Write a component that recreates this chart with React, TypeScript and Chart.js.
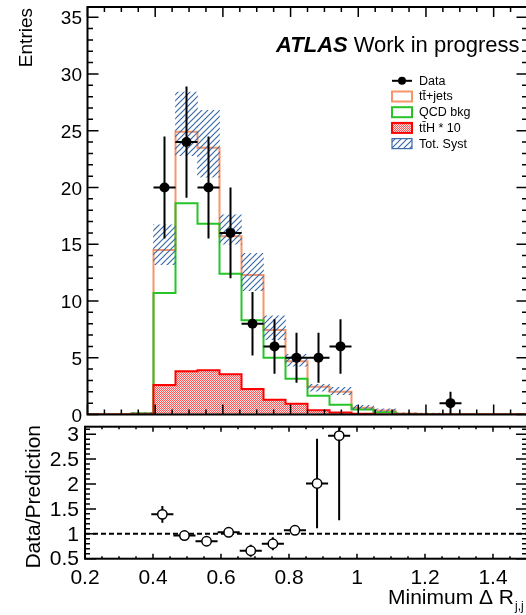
import React, { useEffect, useRef } from 'react';
import { Chart, registerables } from 'chart.js';
Chart.register(...registerables);

const FONT = "'Liberation Sans', Arial, Helvetica, sans-serif";

// ---- data ----
const binEdges = [0.2, 0.265, 0.33, 0.395, 0.46, 0.525, 0.59, 0.655, 0.72, 0.785, 0.85, 0.915, 0.98, 1.045, 1.11, 1.175, 1.24, 1.305, 1.37, 1.435, 1.5];
const qcdBkg = [0, 0, 0.08, 10.7, 18.6, 16.8, 12.4, 8.3, 5.0, 3.15, 1.65, 0.85, 0.45, 0.2, 0.05, 0.03, 0, 0, 0, 0];
const ttJets = [0, 0, 0.04, 3.8, 6.3, 6.7, 3.3, 4.0, 2.45, 1.55, 0.8, 1.15, 0.15, 0.15, 0.03, 0.02, 0, 0, 0, 0];
const ttH10 = [0, 0, 0, 2.6, 3.8, 3.9, 3.55, 2.25, 1.3, 0.95, 0.38, 0.18, 0.06, 0, 0, 0, 0, 0, 0, 0];
const systDown = [0, 0, 0.08, 13.2, 22.8, 20.9, 15.0, 10.9, 6.6, 4.25, 2.05, 1.75, 0.45, 0.25, 0, 0, 0, 0, 0, 0];
const systUp = [0, 0, 0.16, 16.7, 28.4, 26.8, 17.6, 14.2, 8.7, 5.3, 2.65, 2.4, 0.8, 0.5, 0.15, 0.12, 0, 0, 0, 0];

const dataX = [0.4275, 0.4925, 0.5575, 0.6225, 0.6875, 0.7525, 0.8175, 0.8825, 0.9475, 1.2725];
const dataY = [20, 24, 20, 16, 8, 6, 5, 5, 6, 1];
const dataErr = [4.5, 4.9, 4.5, 4.0, 2.8, 2.4, 2.2, 2.2, 2.4, 1.0];

const ratioX = [0.4275, 0.4925, 0.5575, 0.6225, 0.6875, 0.7525, 0.8175, 0.8825, 0.9475];
const ratioY = [1.39, 0.965, 0.85, 1.03, 0.66, 0.8, 1.07, 2.01, 2.97];
const ratioErrUp = [0.17, 0.04, 0.05, 0.04, 0.12, 0.13, 0.09, 0.9, 1.7];
const ratioErrDown = [0.17, 0.04, 0.05, 0.04, 0.12, 0.13, 0.09, 0.9, 1.7];

const X_MIN = 0.2, X_MAX = 1.5;
const Y_TOP_MAX = 35.9;
const R_MIN = 0.5, R_MAX = 3.15;

const legendLabels = ['Data', 'tt\u0304+jets', 'QCD bkg', 'tt\u0304H * 10', 'Tot. Syst'];

const ORANGE = '#f7956a';
const GREEN = '#27c427';
const RED = '#ff0000';
const BLUE = '#3a6aa8';

function outline(vals: number[]) {
  const pts: { x: number; y: number }[] = [{ x: binEdges[0], y: 0 }];
  vals.forEach((v, i) => {
    pts.push({ x: binEdges[i], y: v });
    pts.push({ x: binEdges[i + 1], y: v });
  });
  pts.push({ x: binEdges[binEdges.length - 1], y: 0 });
  return pts;
}

function makeHatch(): CanvasPattern {
  const c = document.createElement('canvas');
  c.width = 6; c.height = 6;
  const g = c.getContext('2d')!;
  g.strokeStyle = BLUE; g.lineWidth = 1.2;
  g.beginPath();
  g.moveTo(0, 6); g.lineTo(6, 0);
  g.moveTo(-1, 1); g.lineTo(1, -1);
  g.moveTo(5, 7); g.lineTo(7, 5);
  g.stroke();
  return g.createPattern(c, 'repeat')!;
}

function makeRed(): CanvasPattern {
  const c = document.createElement('canvas');
  c.width = 2; c.height = 2;
  const g = c.getContext('2d')!;
  g.fillStyle = 'rgb(255,225,225)'; g.fillRect(0, 0, 2, 2);
  g.fillStyle = 'rgba(255,40,40,0.75)';
  g.fillRect(0, 0, 1, 1); g.fillRect(1, 1, 1, 1);
  return g.createPattern(c, 'repeat')!;
}

type TickCfg = {
  xMajor: number; xMinor: number; xMajLen: number; xMinLen: number;
  yMajor: number; yMinor: number; yMajLen: number; yMinLen: number;
};

function drawFrameTicks(chart: any, cfg: TickCfg) {
  const { ctx, chartArea: a, scales } = chart;
  const xs = scales.x, ys = scales.y;
  ctx.save();
  ctx.strokeStyle = '#000';
  ctx.lineWidth = 1.5;
  ctx.beginPath();
  const nx = Math.round((xs.max - xs.min) / cfg.xMinor);
  for (let k = 0; k <= nx; k++) {
    const v = xs.min + k * cfg.xMinor;
    const r = (v - xs.min) / cfg.xMajor;
    const major = Math.abs(r - Math.round(r)) < 1e-6;
    const len = major ? cfg.xMajLen : cfg.xMinLen;
    const px = xs.getPixelForValue(v);
    ctx.moveTo(px, a.bottom); ctx.lineTo(px, a.bottom - len);
    ctx.moveTo(px, a.top); ctx.lineTo(px, a.top + len);
  }
  const ny = Math.floor((ys.max - ys.min) / cfg.yMinor + 1e-6);
  for (let k = 0; k <= ny; k++) {
    const v = ys.min + k * cfg.yMinor;
    const r = (v - ys.min) / cfg.yMajor;
    const major = Math.abs(r - Math.round(r)) < 1e-6;
    const len = major ? cfg.yMajLen : cfg.yMinLen;
    const py = ys.getPixelForValue(v);
    ctx.moveTo(a.left, py); ctx.lineTo(a.left + len, py);
    ctx.moveTo(a.right, py); ctx.lineTo(a.right - len, py);
  }
  ctx.stroke();
  ctx.lineWidth = 2;
  ctx.strokeRect(a.left, a.top, a.right - a.left, a.bottom - a.top);
  ctx.restore();
}

function drawErrorBars(chart: any, xsArr: number[], ysArr: number[], up: number[], down: number[]) {
  const { ctx, chartArea: a, scales } = chart;
  const xs = scales.x, ys = scales.y;
  const halfW = (binEdges[1] - binEdges[0]) / 2;
  ctx.save();
  ctx.beginPath();
  ctx.rect(a.left, a.top, a.right - a.left, a.bottom - a.top);
  ctx.clip();
  ctx.strokeStyle = '#000';
  ctx.lineWidth = 2;
  ctx.beginPath();
  xsArr.forEach((x, i) => {
    const px = xs.getPixelForValue(x);
    const py = ys.getPixelForValue(ysArr[i]);
    ctx.moveTo(px, ys.getPixelForValue(ysArr[i] + up[i]));
    ctx.lineTo(px, ys.getPixelForValue(ysArr[i] - down[i]));
    ctx.moveTo(xs.getPixelForValue(x - halfW), py);
    ctx.lineTo(xs.getPixelForValue(x + halfW), py);
  });
  ctx.stroke();
  ctx.restore();
}

const fmt = (v: any) => String(+Number(v).toFixed(2));
const keepMultiples = (step: number) => (s: any) => {
  s.ticks = s.ticks.filter((t: any) => {
    const r = t.value / step;
    return Math.abs(r - Math.round(r)) < 1e-6;
  });
};

export default function App() {
  const topRef = useRef<HTMLCanvasElement>(null);
  const botRef = useRef<HTMLCanvasElement>(null);

  useEffect(() => {
    const hatch = makeHatch();
    const redPat = makeRed();
    const centers = binEdges.slice(0, -1).map((e, i) => (e + binEdges[i + 1]) / 2);
    const total = qcdBkg.map((v, i) => v + ttJets[i]);

    const topPlugin = {
      id: 'topDecor',
      beforeDatasetDraw(chart: any, args: any) {
        if (args.index === 0) drawErrorBars(chart, dataX, dataY, dataErr, dataErr);
      },
      afterDraw(chart: any) {
        drawFrameTicks(chart, { xMajor: 0.2, xMinor: 0.05, xMajLen: 10, xMinLen: 5, yMajor: 5, yMinor: 1, yMajLen: 11, yMinLen: 5.5 });
        const ctx = chart.ctx as CanvasRenderingContext2D;
        // y title
        ctx.save();
        ctx.fillStyle = '#000';
        ctx.font = `19px ${FONT}`;
        ctx.translate(32, 8);
        ctx.rotate(-Math.PI / 2);
        ctx.textAlign = 'right';
        ctx.textBaseline = 'alphabetic';
        ctx.fillText('Entries', 0, 0);
        ctx.restore();
        // ATLAS label
        ctx.save();
        ctx.fillStyle = '#000';
        ctx.textBaseline = 'alphabetic';
        ctx.textAlign = 'left';
        ctx.font = `italic bold 22px ${FONT}`;
        ctx.fillText('ATLAS', 276, 52);
        const w = ctx.measureText('ATLAS').width;
        ctx.font = `22px ${FONT}`;
        ctx.fillText('Work in progress', 276 + w + 6, 52);
        ctx.restore();
        // legend
        const lx0 = 392, lw = 20, ltx = 419;
        const ly = [80.8, 96.5, 112.2, 127.9, 143.6];
        ctx.save();
        ctx.strokeStyle = '#000'; ctx.lineWidth = 2;
        ctx.beginPath(); ctx.moveTo(lx0, ly[0]); ctx.lineTo(lx0 + lw, ly[0]); ctx.stroke();
        ctx.fillStyle = '#000';
        ctx.beginPath(); ctx.arc(lx0 + lw / 2, ly[0], 4, 0, Math.PI * 2); ctx.fill();
        ctx.fillStyle = '#fff'; ctx.strokeStyle = ORANGE; ctx.lineWidth = 2;
        ctx.fillRect(lx0, ly[1] - 5, lw, 10); ctx.strokeRect(lx0, ly[1] - 5, lw, 10);
        ctx.strokeStyle = GREEN;
        ctx.fillRect(lx0, ly[2] - 5, lw, 10); ctx.strokeRect(lx0, ly[2] - 5, lw, 10);
        ctx.fillStyle = redPat; ctx.strokeStyle = RED;
        ctx.fillRect(lx0, ly[3] - 5, lw, 10); ctx.strokeRect(lx0, ly[3] - 5, lw, 10);
        ctx.fillStyle = hatch; ctx.strokeStyle = BLUE; ctx.lineWidth = 1.2;
        ctx.fillRect(lx0, ly[4] - 5, lw, 10); ctx.strokeRect(lx0, ly[4] - 5, lw, 10);
        ctx.fillStyle = '#000';
        ctx.font = `12.5px ${FONT}`;
        ctx.textBaseline = 'middle';
        ctx.textAlign = 'left';
        legendLabels.forEach((t, i) => ctx.fillText(t, ltx, ly[i] + 0.5));
        ctx.restore();
      },
    };

    const top = new Chart(topRef.current!, {
      type: 'line',
      data: {
        datasets: [
          {
            type: 'line', label: legendLabels[0],
            data: dataX.map((x, i) => ({ x, y: dataY[i] })),
            showLine: false, pointRadius: 5, pointBackgroundColor: '#000', pointBorderColor: '#000', pointBorderWidth: 0,
            order: 0,
          } as any,
          {
            type: 'line', label: legendLabels[3], data: outline(ttH10),
            borderColor: RED, borderWidth: 2, backgroundColor: redPat, fill: 'origin', pointRadius: 0, order: 1,
          } as any,
          {
            type: 'bar', label: legendLabels[4],
            data: centers.map((x, i) => ({ x, y: [systDown[i], systUp[i]] })),
            backgroundColor: hatch, borderWidth: 0, barPercentage: 1, categoryPercentage: 1, order: 2,
          } as any,
          {
            type: 'line', label: legendLabels[2], data: outline(qcdBkg),
            borderColor: GREEN, borderWidth: 2, fill: false, pointRadius: 0, order: 3,
          } as any,
          {
            type: 'line', label: legendLabels[1], data: outline(total),
            borderColor: ORANGE, borderWidth: 2, fill: false, pointRadius: 0, order: 4,
          } as any,
        ],
      },
      options: {
        responsive: false,
        animation: false,
        devicePixelRatio: 1,
        events: [],
        layout: { padding: { top: 7, bottom: 13.5, left: 0, right: 0.5 }, autoPadding: false } as any,
        plugins: { legend: { display: false }, tooltip: { enabled: false } },
        scales: {
          x: { type: 'linear', min: X_MIN, max: X_MAX, bounds: 'data', offset: false, grid: { offset: false }, display: false },
          y: {
            type: 'linear', min: 0, max: Y_TOP_MAX, bounds: 'data',
            grid: { display: false, drawTicks: false }, border: { display: false },
            ticks: {
              stepSize: 5, includeBounds: false, autoSkip: false, padding: 5.5, labelOffset: 2,
              color: '#000', font: { family: FONT, size: 19 }, callback: fmt,
            },
            afterBuildTicks: keepMultiples(5),
            afterFit: (s: any) => { s.width = 87.5; s.paddingTop = 0; s.paddingBottom = 0; },
          },
        } as any,
      },
      plugins: [topPlugin],
    } as any);

    const botPlugin = {
      id: 'botDecor',
      beforeDatasetsDraw(chart: any) {
        drawErrorBars(chart, ratioX, ratioY, ratioErrUp, ratioErrDown);
      },
      afterDraw(chart: any) {
        drawFrameTicks(chart, { xMajor: 0.2, xMinor: 0.05, xMajLen: 5, xMinLen: 2.5, yMajor: 0.5, yMinor: 0.1, yMajLen: 11, yMinLen: 5 });
        const ctx = chart.ctx as CanvasRenderingContext2D;
        ctx.save();
        ctx.fillStyle = '#000';
        ctx.font = `21px ${FONT}`;
        ctx.translate(40, 5);
        ctx.rotate(-Math.PI / 2);
        ctx.textAlign = 'right';
        ctx.textBaseline = 'alphabetic';
        ctx.fillText('Data/Prediction', 0, 0);
        ctx.restore();
        ctx.save();
        ctx.fillStyle = '#000';
        ctx.textAlign = 'left';
        ctx.textBaseline = 'alphabetic';
        ctx.font = `21px ${FONT}`;
        const main = 'Minimum \u0394 R';
        ctx.fillText(main, 388, 184);
        const w = ctx.measureText(main).width;
        ctx.font = `12px ${FONT}`;
        ctx.fillText('j,j', 388 + w + 1, 190);
        ctx.restore();
      },
    };

    const bot = new Chart(botRef.current!, {
      type: 'line',
      data: {
        datasets: [
          {
            type: 'line', label: 'ratio',
            data: ratioX.map((x, i) => ({ x, y: ratioY[i] })),
            showLine: false, pointRadius: 4.7, pointBackgroundColor: '#fff', pointBorderColor: '#000', pointBorderWidth: 1.5,
            order: 0,
          } as any,
          {
            type: 'line', label: 'unity',
            data: [{ x: X_MIN, y: 1 }, { x: X_MAX, y: 1 }],
            borderColor: '#000', borderWidth: 2, borderDash: [5, 3], pointRadius: 0, fill: false, order: 1,
          } as any,
        ],
      },
      options: {
        responsive: false,
        animation: false,
        devicePixelRatio: 1,
        events: [],
        layout: { padding: { top: 6.7, bottom: 0, left: 0, right: 1 }, autoPadding: false } as any,
        plugins: { legend: { display: false }, tooltip: { enabled: false } },
        scales: {
          x: {
            type: 'linear', min: X_MIN, max: X_MAX, bounds: 'data', offset: false,
            grid: { display: false, drawTicks: false }, border: { display: false },
            ticks: {
              stepSize: 0.2, includeBounds: false, autoSkip: false, maxRotation: 0, padding: 7,
              color: '#000', font: { family: FONT, size: 21 }, callback: fmt,
            },
            afterBuildTicks: keepMultiples(0.2),
            afterFit: (s: any) => { s.height = 56.3; s.paddingLeft = 0; s.paddingRight = 0; },
          },
          y: {
            type: 'linear', min: R_MIN, max: R_MAX, bounds: 'data',
            grid: { display: false, drawTicks: false }, border: { display: false },
            ticks: {
              stepSize: 0.5, includeBounds: false, autoSkip: false, padding: 6, labelOffset: 1,
              color: '#000', font: { family: FONT, size: 21 }, callback: fmt,
            },
            afterBuildTicks: keepMultiples(0.5),
            afterFit: (s: any) => { s.width = 85; s.paddingTop = 0; s.paddingBottom = 0; },
          },
        } as any,
      },
      plugins: [botPlugin],
    } as any);

    return () => { top.destroy(); bot.destroy(); };
  }, []);

  return (
    <div style={{ position: 'fixed', left: 0, top: 0, width: 526, height: 615, overflow: 'hidden', background: '#fff' }}>
      <canvas ref={topRef} width={528} height={428} style={{ position: 'absolute', left: 0, top: 0 }} />
      <canvas ref={botRef} width={528} height={195} style={{ position: 'absolute', left: 0, top: 420 }} />
    </div>
  );
}
